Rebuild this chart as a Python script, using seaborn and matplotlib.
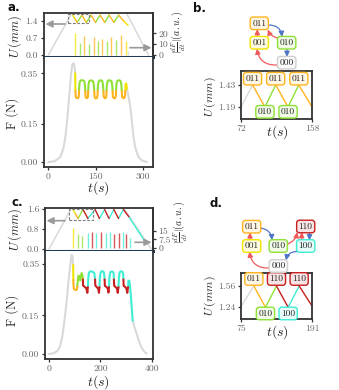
from __future__ import annotations

import matplotlib

matplotlib.use("Agg")
import matplotlib.pyplot as plt
import matplotlib.transforms as mtransforms
import numpy as np
import pandas as pd
import seaborn as sns
from matplotlib.colors import to_rgb
from matplotlib.patches import Rectangle

W, H = 339, 390

STATE_COLORS = {
    "000": "#d9d9d9",
    "001": "#f2e400",
    "010": "#8fe135",
    "011": "#ffb41e",
    "100": "#3eeed2",
    "110": "#c81f1f",
}
UP_COLOR = "#f05a5a"
DOWN_COLOR = "#4f73c7"

# ---- panel a: displacement (mm) ----
A_TRAP_T = [0, 82, 240, 316]
A_TRAP_U = [0.0, 1.9, 1.9, 0.0]
A_ZZ_T = [77, 84, 91, 106, 120, 135, 149, 164, 178, 192, 207, 222, 238, 252]
A_ZZ_U = [1.64, 1.49, 1.34, 1.64, 1.34, 1.64, 1.34, 1.64, 1.34, 1.64, 1.34, 1.64, 1.40, 1.22]
A_ZZ_CUT = [77, 84, 91, 106, 120, 135, 149, 164, 178, 192, 207, 222, 238]
A_ZZ_STATE = ["001", "011", "010", "011", "010", "011", "010", "011", "010", "011", "010", "011", "001"]

# panel a: |dF/dt| spikes
A_SPIKE_T = [83, 99, 114, 128, 143, 156, 170, 184, 199, 214, 229, 244, 252]
A_SPIKE_H = [20, 11.3, 18, 10, 16.6, 13.3, 14.7, 13.3, 16.3, 14, 18.3, 13.3, 4]
A_SPIKE_S = ["001", "010", "011", "010", "011", "010", "011", "010", "011", "010", "011", "001", "000"]

# panel a: force (N)
A_F_T = [
    0, 20, 38, 48, 54, 60, 64, 68, 72, 76, 80, 83, 85,
    85.5, 86.5, 90, 95, 96.5,
    97, 98, 100, 104, 110, 114, 116,
    116.8, 117.5, 120, 124, 125.5,
    126, 127, 129, 133, 139, 142, 144,
    145, 146, 149, 153, 155.5,
    156, 157, 159, 162, 168, 171, 173,
    174, 175, 178, 182, 183.5,
    184, 185, 187, 191, 197, 200, 202,
    203, 204, 207, 211, 213.5,
    214, 215, 217, 220, 226, 229, 231,
    232, 233, 236, 240, 242.5,
    243, 244, 246,
    248, 254, 259, 264, 269, 274, 280, 286, 295, 311,
]
A_F_V = [
    0.0, 0.003, 0.02, 0.055, 0.10, 0.17, 0.23, 0.29, 0.35, 0.385, 0.39, 0.375, 0.35,
    0.28, 0.257, 0.252, 0.253, 0.262,
    0.28, 0.305, 0.318, 0.323, 0.322, 0.318, 0.300,
    0.28, 0.258, 0.252, 0.253, 0.262,
    0.28, 0.306, 0.318, 0.322, 0.321, 0.317, 0.300,
    0.28, 0.257, 0.251, 0.252, 0.262,
    0.28, 0.305, 0.317, 0.322, 0.322, 0.318, 0.300,
    0.28, 0.258, 0.252, 0.253, 0.263,
    0.28, 0.305, 0.318, 0.323, 0.321, 0.317, 0.300,
    0.28, 0.257, 0.252, 0.252, 0.262,
    0.28, 0.306, 0.318, 0.322, 0.322, 0.318, 0.300,
    0.28, 0.258, 0.252, 0.253, 0.262,
    0.28, 0.305, 0.31,
    0.29, 0.255, 0.218, 0.16, 0.10, 0.06, 0.035, 0.018, 0.006, 0.0,
]
A_F_CUT = [0, 85, 85.5, 97, 116.8, 126, 145, 156, 174, 184, 203, 214, 232, 243, 248]
A_F_STATE = ["000", "001", "011", "010", "011", "010", "011", "010", "011", "010",
             "011", "010", "011", "001", "000"]

# ---- panel c: displacement (mm) ----
C_TRAP_T = [0, 92, 285, 397]
C_TRAP_U = [0.0, 1.72, 1.72, 0.0]
C_ZZ_T = [93, 103, 113, 132, 151, 179, 196, 216, 233, 252, 270, 289, 310, 379]
C_ZZ_U = [1.58, 1.40, 1.22, 1.58, 1.22, 1.58, 1.22, 1.58, 1.22, 1.58, 1.22, 1.58, 1.29, 0.2]
C_ZZ_CUT = [93, 103, 113, 132, 151, 179, 196, 216, 233, 252, 270, 289, 310]
C_ZZ_STATE = ["001", "011", "010", "110", "100", "110", "100", "110", "100", "110",
              "100", "110", "100"]

C_SPIKE_T = [93, 113, 130, 150, 166, 184, 203, 221, 237, 254, 271, 287, 300, 313]
C_SPIKE_H = [17, 12, 10, 13, 14, 13, 13.5, 13, 14, 12.5, 13, 13.5, 12, 9]
C_SPIKE_S = ["001", "010", "010", "100", "110", "100", "110", "100", "100", "110",
             "110", "100", "110", "100"]

# panel c: force (N)
C_F_T = [
    0, 20, 35, 43, 52, 62, 70, 75, 80, 85, 88, 91, 94,
    94.5, 95, 97, 103, 108,
    110, 112, 115, 118, 121, 124, 127, 130,
    131.5, 132.5, 138, 145, 149, 150,
    151, 152.5, 155, 160, 170, 176,
    179, 180, 185, 191, 194, 195,
    196, 197.5, 200, 204, 211, 214,
    216, 217, 222, 228, 231, 232,
    233, 234.5, 237, 241, 248, 251,
    252, 253, 258, 264, 267, 268.5,
    270, 271.5, 274, 278, 285, 288,
    289, 290, 295, 301, 304, 305.5,
    307, 308.5, 312, 316, 320,
    325, 332, 340, 348, 356, 364, 372, 380,
]
C_F_V = [
    0.0, 0.003, 0.015, 0.03, 0.07, 0.145, 0.22, 0.275, 0.325, 0.365, 0.386, 0.38, 0.346,
    0.288, 0.27, 0.252, 0.249, 0.25,
    0.262, 0.29, 0.305, 0.296, 0.286, 0.305, 0.315, 0.306,
    0.29, 0.266, 0.262, 0.255, 0.238, 0.25,
    0.26, 0.295, 0.315, 0.322, 0.32, 0.315,
    0.29, 0.266, 0.261, 0.254, 0.238, 0.25,
    0.26, 0.296, 0.316, 0.322, 0.321, 0.314,
    0.29, 0.265, 0.262, 0.255, 0.239, 0.25,
    0.26, 0.295, 0.315, 0.321, 0.32, 0.315,
    0.29, 0.266, 0.261, 0.255, 0.238, 0.25,
    0.26, 0.296, 0.316, 0.322, 0.32, 0.314,
    0.29, 0.265, 0.262, 0.254, 0.238, 0.25,
    0.26, 0.285, 0.285, 0.25, 0.2,
    0.13, 0.105, 0.08, 0.055, 0.033, 0.017, 0.007, 0.002,
]
C_F_CUT = [0, 94, 94.5, 110, 131.5, 151, 179, 196, 216, 233, 252, 270, 289, 307, 325]
C_F_STATE = ["000", "001", "011", "010", "110", "100", "110", "100", "110", "100",
             "110", "100", "110", "100", "000"]

# ---- panel b: zoom of a ----
B_T = [72, 86, 101, 114, 129, 142, 158]
B_U = [1.19, 1.43, 1.19, 1.43, 1.19, 1.43, 1.19]
B_CUT = [72, 86, 101, 114, 129, 142]
B_STATE = ["000", "011", "010", "011", "010", "011"]
B_PEAK_T = [86, 114, 142]
B_PEAK_S = ["011", "011", "011"]
B_TROUGH_T = [101, 129]
B_TROUGH_S = ["010", "010"]

# ---- panel d: zoom of c ----
D_T = [75, 96, 115, 133, 152, 170, 191]
D_U = [1.25, 1.56, 1.24, 1.56, 1.24, 1.56, 1.26]
D_CUT = [75, 96, 115, 133, 152, 170]
D_STATE = ["000", "011", "010", "110", "100", "110"]
D_PEAK_T = [96, 133, 170]
D_PEAK_S = ["011", "110", "110"]
D_TROUGH_T = [115, 152]
D_TROUGH_S = ["010", "100"]

# state diagrams (pixel layout)
B_NODES = {"011": (259.3, 23.3), "001": (259.3, 42.7), "010": (286.7, 42.7), "000": (286.7, 62.7)}
B_EDGES = [
    ((257.3, 37.3), (257.3, 29.0), UP_COLOR, 0.0),
    ((277.5, 38.0), (267.8, 29.5), UP_COLOR, -0.25),
    ((268.5, 25.0), (282.0, 37.0), DOWN_COLOR, -0.45),
    ((287.0, 48.3), (287.0, 57.0), DOWN_COLOR, 0.0),
    ((277.0, 65.0), (257.0, 48.5), UP_COLOR, -0.45),
]
D_NODES = {"011": (251.7, 226.7), "001": (251.7, 246.0), "010": (278.3, 246.0),
           "110": (305.7, 226.5), "100": (305.7, 246.0), "000": (278.3, 266.0)}
D_EDGES = [
    ((250.0, 240.5), (250.0, 232.2), UP_COLOR, 0.0),
    ((260.5, 228.0), (272.0, 240.3), DOWN_COLOR, -0.4),
    ((287.5, 244.0), (297.0, 232.0), UP_COLOR, 0.3),
    ((301.7, 240.5), (301.7, 232.0), UP_COLOR, 0.0),
    ((309.5, 232.0), (309.5, 240.5), DOWN_COLOR, 0.0),
    ((297.0, 251.5), (286.0, 260.5), DOWN_COLOR, 0.4),
    ((269.0, 268.0), (249.5, 251.5), UP_COLOR, -0.45),
]


def px_rect(x0, y0, x1, y1):
    return [x0 / W, 1 - y1 / H, (x1 - x0) / W, (y1 - y0) / H]


def light(state, a=0.12):
    r, g, b = to_rgb(STATE_COLORS[state])
    return (1 - a + a * r, 1 - a + a * g, 1 - a + a * b)


def path_frame(t, v, cut, states):
    t = np.asarray(t, float)
    v = np.asarray(v, float)
    seg_state = np.asarray(states)[np.searchsorted(cut, t[:-1], side="right") - 1]
    rows = []
    run = -1
    for i, st in enumerate(seg_state):
        if i == 0 or st != seg_state[i - 1]:
            run += 1
            rows.append((run, st, t[i], v[i]))
        rows.append((run, st, t[i + 1], v[i + 1]))
    return pd.DataFrame(rows, columns=["run", "state", "t", "v"])


def draw_path(ax, t, v, cut, states, lw):
    df = path_frame(t, v, cut, states)
    order = [k for k in STATE_COLORS if k in set(df["state"])]
    sns.lineplot(data=df, x="t", y="v", hue="state", hue_order=order, units="run",
                 estimator=None, sort=False, palette=STATE_COLORS, legend=False,
                 linewidth=lw, ax=ax)
    ax.set_xlabel("")
    ax.set_ylabel("")


def tag(ax, x, y, text, state, transform, fs=6.8):
    ec = "#cfcfcf" if state == "000" else STATE_COLORS[state]
    ax.text(x, y, text, transform=transform, ha="center", va="center", fontsize=fs,
            color="#222222", zorder=6,
            bbox=dict(boxstyle="round,pad=0.22,rounding_size=0.3", fc=light(state),
                      ec=ec, lw=1.0))


def arrow(ax, start, end, color, rad=0.0, lw=0.9, scale=7, head="0.45,head_width=0.22"):
    ax.annotate("", xy=end, xytext=start, zorder=3,
                arrowprops=dict(arrowstyle=f"-|>,head_length={head}", color=color, lw=lw,
                                shrinkA=0, shrinkB=0, mutation_scale=scale,
                                connectionstyle=f"arc3,rad={rad}"))


def big_panel(fig, ubox, fbox, xlim, ulim, slim, flim, uticks, sticks, stlabels,
              xticks, trap, zz, spikes, force, dash):
    axu = fig.add_axes(px_rect(*ubox))
    axf = fig.add_axes(px_rect(*fbox))

    draw_path(axu, trap[0], trap[1], [0], ["000"], 1.1)
    draw_path(axu, *zz, 1.0)
    axu.add_patch(Rectangle((dash[0], dash[1]), dash[2], dash[3], fill=False,
                            ec="#7a7a7a", lw=0.8, ls=(0, (2.5, 1.5)), zorder=4))
    axu.set_xlim(xlim)
    axu.set_ylim(ulim)
    axu.set_xticks([])
    axu.set_yticks(uticks, [f"{u:.1f}" for u in uticks])
    axu.spines["bottom"].set_color("#1e3a56")
    axu.spines["bottom"].set_linewidth(2.2)

    ax2 = axu.twinx()
    ax2.vlines(spikes[0], 0, spikes[1], colors=[STATE_COLORS[s] for s in spikes[2]],
               linewidth=1.0, alpha=0.75)
    ax2.set_ylim(slim)
    ax2.set_yticks(sticks, stlabels)
    for side in ("top", "left", "bottom"):
        ax2.spines[side].set_visible(False)

    draw_path(axf, *force, 1.5)
    axf.set_xlim(xlim)
    axf.set_ylim(flim)
    axf.set_yticks([0.0, 0.15, 0.35], ["0.00", "0.15", "0.35"])
    axf.set_xticks(xticks, [str(x) for x in xticks])
    axf.spines["top"].set_visible(False)
    axf.tick_params(right=False)


def zoom_panel(fig, box, t, u, cut, states, xlim, ylim, yticks, peaks, troughs, ytop, ybot):
    ax = fig.add_axes(px_rect(*box))
    draw_path(ax, t, u, cut, states, 1.0)
    ax.set_xlim(xlim)
    ax.set_ylim(ylim)
    ax.set_yticks(yticks, [f"{y:.2f}" for y in yticks])
    ax.set_xticks(xlim, [str(x) for x in xlim])
    trans = mtransforms.blended_transform_factory(ax.transData, ax.transAxes)
    for x, s in zip(*peaks):
        tag(ax, x, ytop, s, s, trans)
    for x, s in zip(*troughs):
        tag(ax, x, ybot, s, s, trans)


def main() -> None:
    sns.set_theme(style="ticks")
    plt.rcParams.update({
        "font.family": ["cmr10", "DejaVu Serif"],
        "mathtext.fontset": "cm",
        "axes.unicode_minus": False,
        "axes.linewidth": 1.3,
        "axes.edgecolor": "#333333",
        "xtick.color": "#333333",
        "ytick.color": "#333333",
        "xtick.labelcolor": "#666666",
        "ytick.labelcolor": "#666666",
        "xtick.labelsize": 7,
        "ytick.labelsize": 7,
        "xtick.major.size": 2.5,
        "ytick.major.size": 2.5,
        "xtick.major.width": 0.9,
        "ytick.major.width": 0.9,
        "xtick.major.pad": 1.5,
        "ytick.major.pad": 1.5,
    })

    fig = plt.figure(figsize=(W / 100, H / 100), dpi=100)

    big_panel(fig, (43.5, 13, 153, 57), (43.5, 57, 153, 167), (-15.2, 330.6),
              (-0.08, 1.73), (-1.9, 39), (-0.0197, 0.4144), [0.0, 0.7, 1.4],
              [0, 10, 20], ["0", "10", "20"], [0, 150, 300],
              (A_TRAP_T, A_TRAP_U), (A_ZZ_T, A_ZZ_U, A_ZZ_CUT, A_ZZ_STATE),
              (A_SPIKE_T, A_SPIKE_H, A_SPIKE_S), (A_F_T, A_F_V, A_F_CUT, A_F_STATE),
              (63, 1.32, 66.5, 0.37))
    big_panel(fig, (45, 208, 153, 251), (45, 251, 153, 359), (-15.5, 403.9),
              (-0.08, 1.64), (-2.6, 34.7), (-0.0195, 0.4008), [0.0, 0.8, 1.6],
              [0, 7.5, 15], ["0", "7.5", "15"], [0, 200, 400],
              (C_TRAP_T, C_TRAP_U), (C_ZZ_T, C_ZZ_U, C_ZZ_CUT, C_ZZ_STATE),
              (C_SPIKE_T, C_SPIKE_H, C_SPIKE_S), (C_F_T, C_F_V, C_F_CUT, C_F_STATE),
              (76, 1.16, 93, 0.44))

    zoom_panel(fig, (241, 71, 312, 119), B_T, B_U, B_CUT, B_STATE, (72, 158),
               (1.06, 1.58), [1.19, 1.43], (B_PEAK_T, B_PEAK_S),
               (B_TROUGH_T, B_TROUGH_S), 0.84, 0.15)
    zoom_panel(fig, (241, 273, 312, 319), D_T, D_U, D_CUT, D_STATE, (75, 191),
               (1.064, 1.755), [1.24, 1.56], (D_PEAK_T, D_PEAK_S),
               (D_TROUGH_T, D_TROUGH_S), 0.87, 0.12)

    ov = fig.add_axes([0, 0, 1, 1])
    ov.set_xlim(0, W)
    ov.set_ylim(H, 0)
    ov.axis("off")
    ov.patch.set_alpha(0)
    ov.set_zorder(10)

    for nodes, edges in ((B_NODES, B_EDGES), (D_NODES, D_EDGES)):
        for start, end, color, rad in edges:
            arrow(ov, start, end, color, rad)
        for name, (x, y) in nodes.items():
            tag(ov, x, y, name, name, ov.transData)

    for start, end in (((65, 24), (45.5, 24)), ((130, 47.7), (151.5, 47.7)),
                       ((65, 220.7), (46.5, 220.7)), ((135, 242.3), (151.5, 242.3))):
        arrow(ov, start, end, "#9a9a9a", 0.0, lw=1.2, scale=8, head="0.5,head_width=0.25")

    for x, y, s in ((7, 7.5, "a."), (193, 8, "b."), (11.5, 202.5, "c."), (209, 203.5, "d.")):
        ov.text(x, y, s, ha="left", va="center", fontsize=8.5, fontweight="bold",
                family="DejaVu Sans", color="#111111")

    for y in (37, 230):
        ov.text(15, y, r"$U\,(mm)$", rotation=90, ha="center", va="center", fontsize=9)
    for y in (113, 310):
        ov.text(12.5, y, "F (N)", rotation=90, ha="center", va="center", fontsize=9)
    for y in (188.5, 382):
        ov.text(98, y, r"$t(s)$", ha="center", va="center", fontsize=10)
    for x, y in ((178.5, 32), (181, 222)):
        ov.text(x, y, r"$|\frac{dF}{dt}|(a.u.)$", rotation=90, ha="center",
                va="center", fontsize=7.2)
    for y in (97, 296):
        ov.text(210, y, r"$U\,(mm)$", rotation=90, ha="center", va="center", fontsize=8.5)
    for y in (132, 332):
        ov.text(277, y, r"$t(s)$", ha="center", va="center", fontsize=10)

    fig.savefig("out.png", dpi=100)
    plt.close(fig)


if __name__ == "__main__":
    main()
